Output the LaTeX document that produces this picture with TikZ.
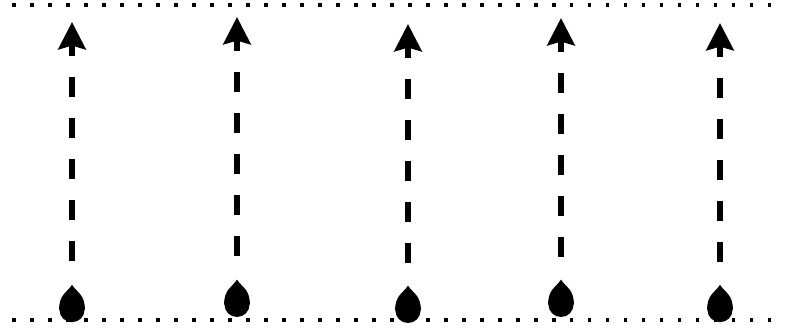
\documentclass[tikz,border=0pt]{standalone}
\usetikzlibrary{arrows.meta}
\usetikzlibrary{calc}
\tikzstyle{drop}=[shape=circle, minimum size=6.3mm, inner sep=0, fill=black]
\tikzstyle{flow}=[line width=1.45mm, dash pattern=on 14.2pt off 14.9pt, dash phase=5.7pt, shorten >=6mm, {Stealth[length=6.8mm, width=6.8mm, inset=0.9mm]}-]
\tikzstyle{dotline}=[line width=2.6pt, dash pattern=on 2.6pt off 10.2pt]
\newcommand{\droptip}[1]{\fill (#1.west) .. controls +(0,0.38) and +(-0.13,-0.2) .. ($(#1.center)+(0,0.62)$) .. controls +(0.13,-0.2) and +(0,0.38) .. (#1.east) -- cycle;}
\begin{document}
\begin{tikzpicture}
\useasboundingbox (0,0) rectangle (19.85,8.2);
\coordinate (tl) at (0.3,8.075);
\coordinate (tr) at (19.6,8.075);
\coordinate (bl) at (0.3,0.2);
\coordinate (br) at (19.6,0.2);
\draw[dotline] (tl)--(tr);
\draw[dotline] (bl)--(br);
\node at (1.8,0.46)[drop](d1){};
\node at (5.925,0.59)[drop](d2){};
\node at (10.2,0.44)[drop](d3){};
\node at (14.025,0.59)[drop](d4){};
\node at (18.0,0.46)[drop](d5){};
\droptip{d1}
\droptip{d2}
\droptip{d3}
\droptip{d4}
\droptip{d5}
\coordinate (t1) at (1.8,7.65);
\coordinate (t2) at (5.925,7.775);
\coordinate (t3) at (10.2,7.6);
\coordinate (t4) at (14.025,7.75);
\coordinate (t5) at (18.0,7.625);
\draw[flow] (t1)--(d1);
\draw[flow] (t2)--(d2);
\draw[flow] (t3)--(d3);
\draw[flow] (t4)--(d4);
\draw[flow] (t5)--(d5);
\end{tikzpicture}
\end{document}
